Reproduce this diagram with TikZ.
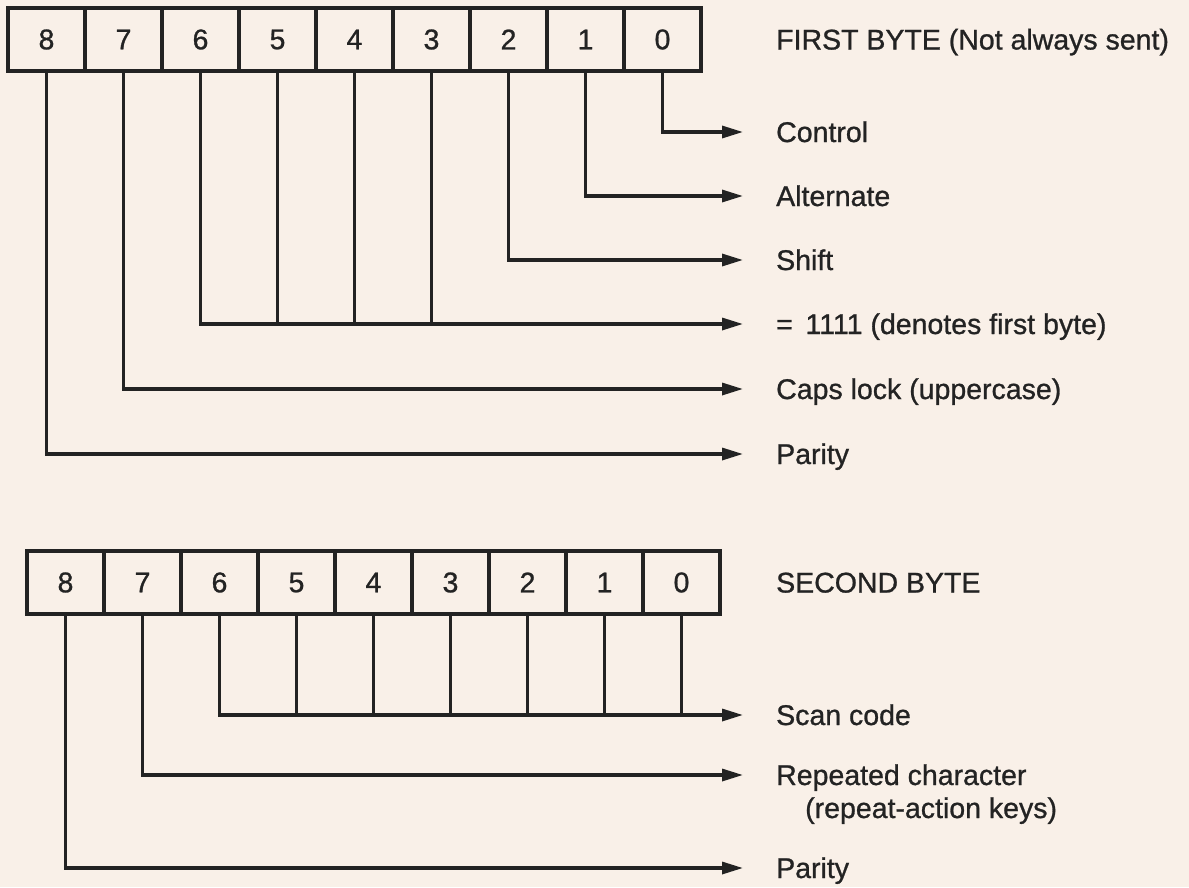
\documentclass[tikz,border=0pt]{standalone}
\usepackage{fontspec}
\setmainfont{Liberation Sans}[FakeBold=0.9, AutoFakeBold=0.9]
\usetikzlibrary{positioning, calc, arrows.meta}
\definecolor{papercolor}{HTML}{F9F0E8}
\definecolor{inkcolor}{HTML}{232323}

\begin{document}
\begin{tikzpicture}[
    x=1pt, y=-1pt,
    font=\fontsize{28.5}{33}\selectfont\bfseries,
    cell/.style={draw=inkcolor, rectangle, minimum width=77pt, minimum height=63pt, inner sep=0pt, line width=3.2pt, text=inkcolor},
    lbl/.style={anchor=west, inner sep=0pt, text height=20pt, text depth=0pt, text=inkcolor},
    arrow/.style={-{Triangle[length=21pt, width=12pt]}, line width=3.2pt, draw=inkcolor, shorten >=33pt},
    wire/.style={line width=3.2pt, draw=inkcolor}
]

    % paper
    \fill [papercolor] (0, 0) rectangle (1189, 887);

    % =========================================================================
    % FIRST BYTE
    % =========================================================================

    % Bit cells
    \foreach \b [count=\i from 0] in {8,7,...,0}
        \node (fb\b) [cell] at ({46.5 + 77*\i}, 39.5) {\b};

    % Labels
    \node (fb_title) [lbl] at (776, 39.5) {FIRST BYTE (Not always sent)};
    \node (fb_ctrl) [lbl] at (776, 132) {Control};
    \node (fb_alt) [lbl] at (776, 196) {Alternate};
    \node (fb_shift) [lbl] at (776, 260) {Shift};
    \node (fb_ones) [lbl] at (776, 324) {=\, 1111 (denotes first byte)};
    \node (fb_caps) [lbl] at (776, 389) {Caps lock (uppercase)};
    \node (fb_par) [lbl] at (776, 454) {Parity};

    % Connections
    \draw [arrow] (fb0.south) |- (fb_ctrl.west);
    \draw [arrow] (fb1.south) |- (fb_alt.west);
    \draw [arrow] (fb2.south) |- (fb_shift.west);
    \draw [arrow] (fb6.south) |- (fb_ones.west);
    \foreach \b in {5,4,3}
        \draw [wire] (fb\b.south) -- (fb\b.south |- fb_ones.west);
    \draw [arrow] (fb7.south) |- (fb_caps.west);
    \draw [arrow] (fb8.south) |- (fb_par.west);


    % =========================================================================
    % SECOND BYTE
    % =========================================================================

    % Bit cells
    \foreach \b [count=\i from 0] in {8,7,...,0}
        \node (sb\b) [cell] at ({65.5 + 77*\i}, 582.5) {\b};

    % Labels
    \node (sb_title) [lbl] at (776, 582.5) {SECOND BYTE};
    \node (sb_scan) [lbl] at (776, 715) {Scan code};
    \node (sb_rep) [lbl] at (776, 775) {Repeated character};
    \node (sb_rep_sub) [lbl] at (805, 808) {(repeat-action keys)};
    \node (sb_par) [lbl] at (776, 868) {Parity};

    % Connections
    \draw [arrow] (sb6.south) |- (sb_scan.west);
    \foreach \b in {5,4,...,0}
        \draw [wire] (sb\b.south) -- (sb\b.south |- sb_scan.west);
    \draw [arrow] (sb7.south) |- (sb_rep.west);
    \draw [arrow] (sb8.south) |- (sb_par.west);

\end{tikzpicture}
\end{document}
